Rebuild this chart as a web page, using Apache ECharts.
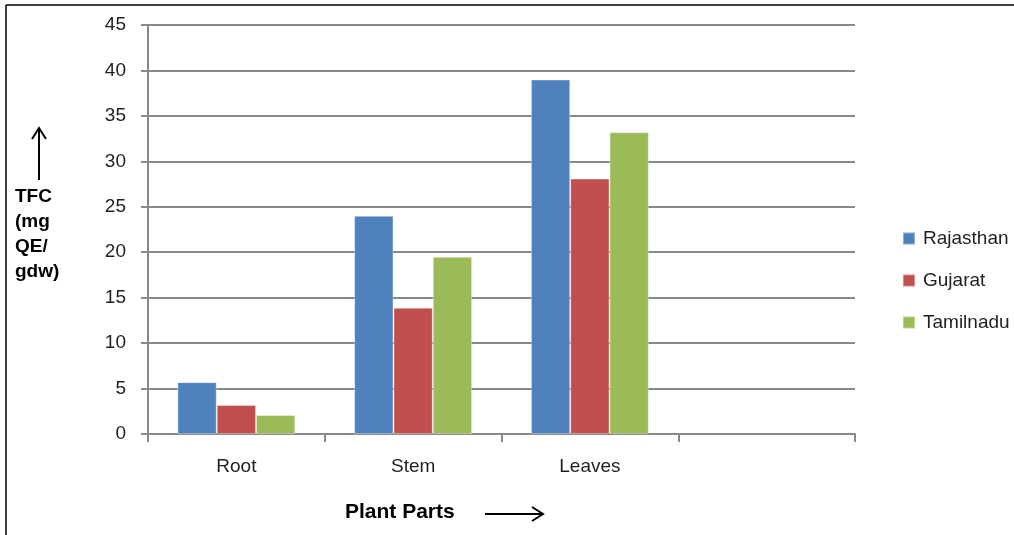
<!DOCTYPE html>
<html>
<head>
<meta charset="utf-8">
<script src="https://cdn.jsdelivr.net/npm/echarts@6/dist/echarts.min.js"></script>
<style>
  html, body { margin: 0; padding: 0; background: #fff; }
  #chart { width: 1014px; height: 535px; }
</style>
</head>
<body>
<div id="chart"></div>
<script>
// Total flavonoid content by plant part and region
const categories = ['Root', 'Stem', 'Leaves', ''];
const rajasthan = [5.7, 24.0, 39.0, null];
const gujarat   = [3.2, 13.9, 28.1, null];
const tamilnadu = [2.1, 19.5, 33.2, null];
const seriesNames = ['Rajasthan', 'Gujarat', 'Tamilnadu'];
const yTicks = { min: 0, max: 45, step: 5 };

const FONT = '"Liberation Sans", Arial, sans-serif';
const AXIS_GREY = '#898989';
const TEXT = '#1f1f1f';

const chart = echarts.init(document.getElementById('chart'), null, { renderer: 'canvas' });

const mkBar = (name, data, color) => ({
  name, type: 'bar', data,
  barGap: '0%', barCategoryGap: '33.3%',
  itemStyle: { color, borderColor: 'rgba(255,255,255,0.35)', borderWidth: 1 },
  emphasis: { disabled: true },
  animation: false
});

chart.setOption({
  animation: false,
  backgroundColor: '#ffffff',
  grid: { left: 148, right: 159, top: 25, bottom: 101, containLabel: false },
  legend: {
    orient: 'vertical', left: 897, top: 224,
    icon: 'rect', itemWidth: 12, itemHeight: 12, itemGap: 23,
    data: seriesNames,
    textStyle: { fontFamily: FONT, fontSize: 19, color: TEXT, lineHeight: 19, padding: [0, 0, 0, 3] },
    selectedMode: false
  },
  xAxis: {
    type: 'category', data: categories,
    axisLine: { lineStyle: { color: AXIS_GREY, width: 2 } },
    axisTick: { show: true, alignWithLabel: false, length: 8, lineStyle: { color: AXIS_GREY, width: 2 } },
    axisLabel: { fontFamily: FONT, fontSize: 19, color: TEXT, margin: 23 },
    splitLine: { show: false }
  },
  yAxis: {
    type: 'value', min: yTicks.min, max: yTicks.max, interval: yTicks.step,
    axisLine: { show: true, lineStyle: { color: AXIS_GREY, width: 2 } },
    axisTick: { show: true, length: 7, lineStyle: { color: AXIS_GREY, width: 2 } },
    axisLabel: { fontFamily: FONT, fontSize: 19, color: TEXT, margin: 22 },
    splitLine: { show: true, lineStyle: { color: AXIS_GREY, width: 2 } }
  },
  series: [
    mkBar(seriesNames[0], rajasthan, '#4F81BD'),
    mkBar(seriesNames[1], gujarat, '#C0504D'),
    mkBar(seriesNames[2], tamilnadu, '#9BBB59')
  ],
  graphic: [
    // frame edges
    { type: 'line', shape: { x1: 6, y1: 5, x2: 1014, y2: 5 }, style: { stroke: '#000', lineWidth: 1.5 } },
    { type: 'line', shape: { x1: 6, y1: 5, x2: 6, y2: 535 }, style: { stroke: '#000', lineWidth: 1.5 } },
    // y-axis title with upward arrow
    { type: 'text', left: 15, top: 184,
      style: { text: 'TFC\n(mg\nQE/\ngdw)', font: 'bold 19px ' + FONT, fill: '#000', lineHeight: 25 } },
    { type: 'line', shape: { x1: 39, y1: 180, x2: 39, y2: 129 }, style: { stroke: '#000', lineWidth: 2 } },
    { type: 'polyline', shape: { points: [[32, 139], [39, 128], [46, 139]] }, style: { stroke: '#000', lineWidth: 2, fill: null } },
    // x-axis title with rightward arrow
    { type: 'text', left: 345, top: 502,
      style: { text: 'Plant Parts', font: 'bold 21px ' + FONT, fill: '#000' } },
    { type: 'line', shape: { x1: 485, y1: 514, x2: 542, y2: 514 }, style: { stroke: '#000', lineWidth: 2 } },
    { type: 'polyline', shape: { points: [[532, 507], [543, 514], [532, 521]] }, style: { stroke: '#000', lineWidth: 2, fill: null } }
  ]
});
</script>
</body>
</html>
